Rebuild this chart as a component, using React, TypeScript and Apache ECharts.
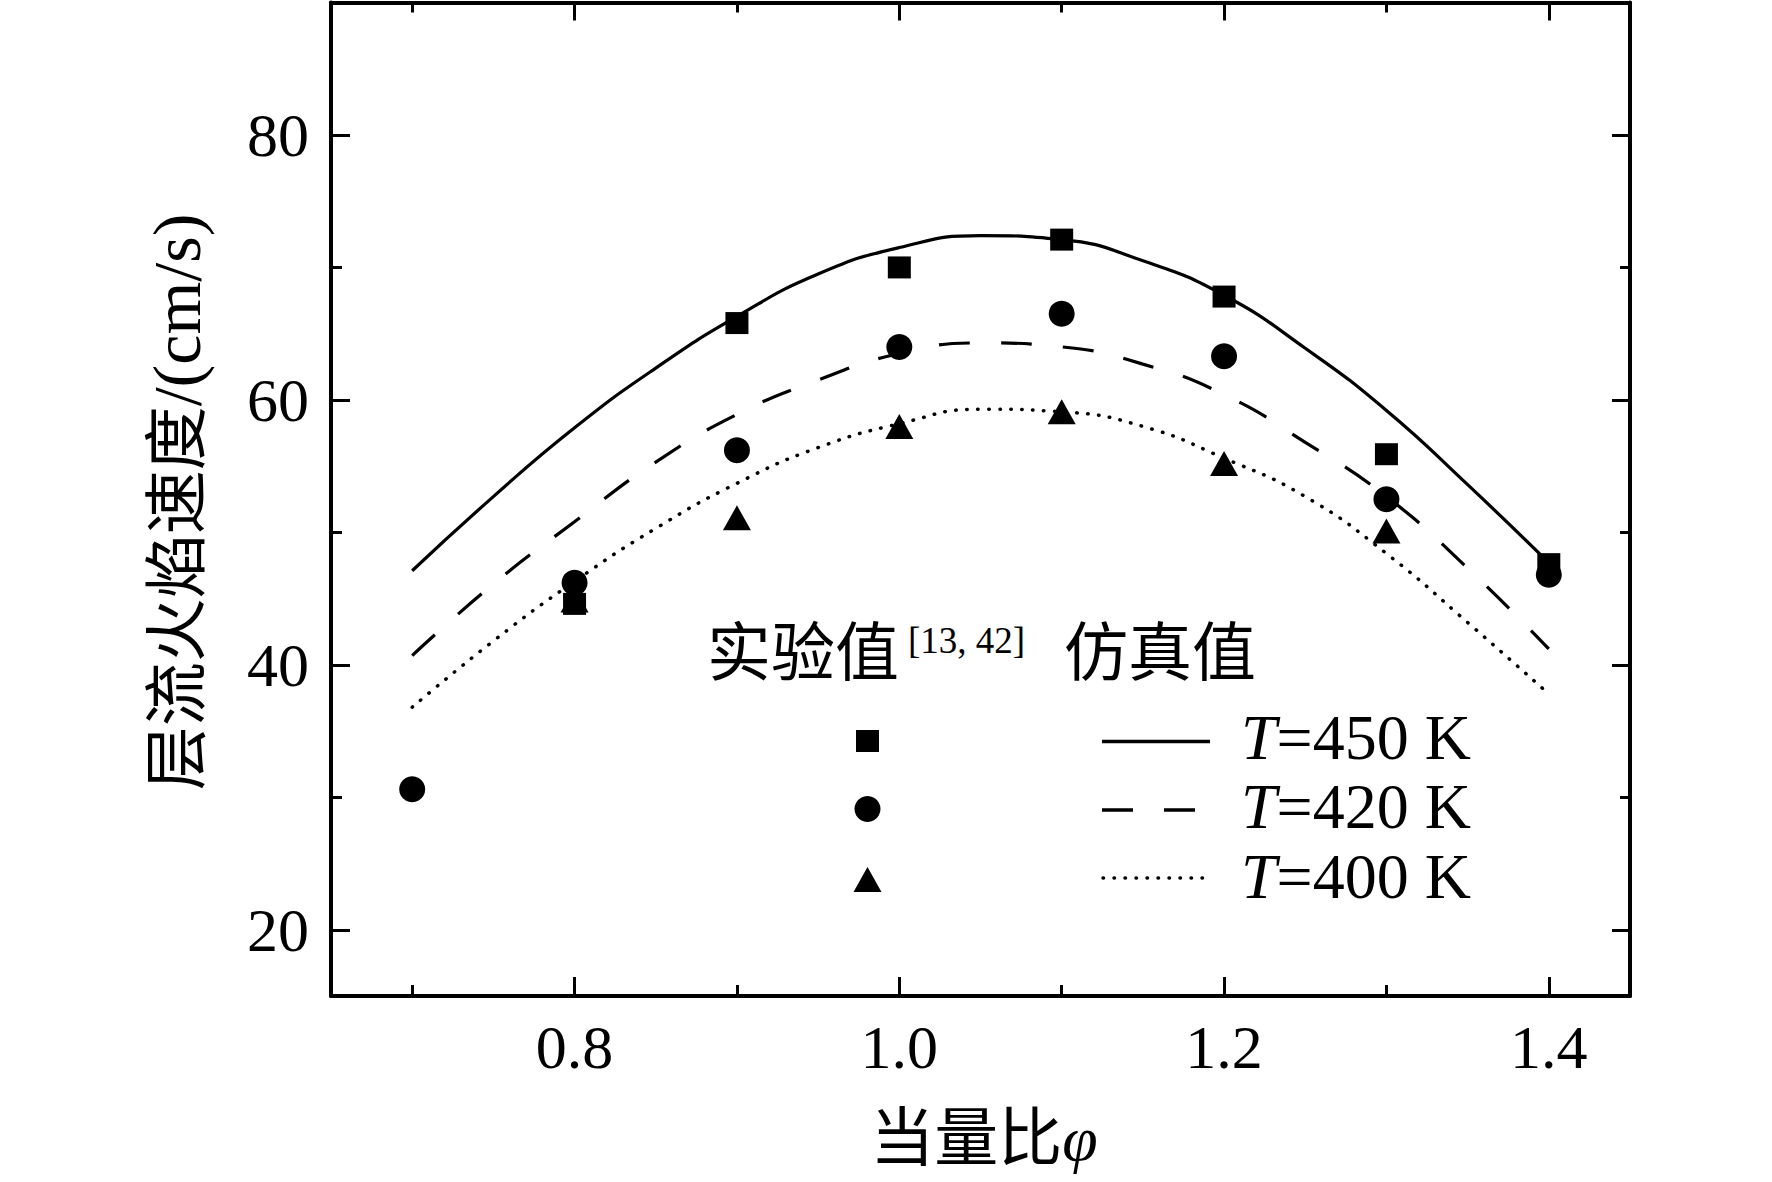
import React, { useEffect, useRef } from "react";
import * as echarts from "echarts";

// Experimental data (symbols)
const phiExp = [0.7, 0.8, 0.9, 1.0, 1.1, 1.2, 1.3, 1.4];
const exp450 = [null, 44.6, 65.8, 70.0, 72.1, 67.8, 55.9, 47.6];
const exp420 = [30.6, 46.2, 56.2, 64.0, 66.5, 63.3, 52.5, 46.8];
const exp400 = [null, 44.9, 51.1, 58.0, 59.1, 55.2, 50.1, null];

// Simulated curves
const simPhi = [0.7, 0.75, 0.8, 0.85, 0.9, 0.95, 1.0, 1.05, 1.1, 1.15, 1.2, 1.25, 1.3, 1.35, 1.4];
const sim450 = [47.1, 52.7, 57.9, 62.4, 66.3, 69.5, 71.5, 72.4, 72.1, 70.5, 67.9, 63.9, 59.2, 53.6, 47.7];
const sim420 = [40.7, 46.1, 50.8, 55.3, 58.9, 61.5, 63.5, 64.3, 64.0, 62.7, 60.4, 56.8, 52.7, 47.3, 41.2];
const sim400 = [36.8, 41.8, 46.3, 50.3, 53.7, 56.4, 58.2, 59.3, 59.1, 58.0, 55.6, 52.7, 48.4, 43.2, 37.8];

// Axis ticks
const xMajor = [0.8, 1.0, 1.2, 1.4];
const xMinor = [0.7, 0.9, 1.1, 1.3];
const yMajor = [20, 40, 60, 80];
const yMinor = [30, 50, 70];

// Texts
const yTitleCn = "层流火焰速度";
const yTitleUnit = "/(cm/s)";
const xTitleCn = "当量比";
const xTitleSym = "φ";
const expHeader = "实验值";
const expRef = "[13, 42]";
const simHeader = "仿真值";
const legendTemps = ["=450 K", "=420 K", "=400 K"];

const pairs = (xs: number[], ys: (number | null)[]) =>
  xs.map((x, i) => [x, ys[i]]).filter((p) => p[1] !== null);

const BLACK = "#000";
const SERIF = "'Liberation Serif', 'Times New Roman', serif";
const CJK = "'Liberation Serif', 'Noto Sans CJK SC', serif";

const X_MIN = 0.65;
const X_MAX = 1.45;
const Y_MIN = 15;
const Y_MAX = 90;

function xAx(gridIndex: number, position: string, ticks: number[], len: number, showLine: boolean, labels: boolean) {
  return {
    type: "value",
    gridIndex,
    position,
    min: X_MIN,
    max: X_MAX,
    axisLine: { show: showLine, onZero: false, lineStyle: { color: BLACK, width: 4 } },
    axisTick: { show: true, inside: true, length: len, customValues: ticks, lineStyle: { color: BLACK, width: 3 } },
    axisLabel: labels
      ? {
          show: true,
          customValues: ticks,
          formatter: (v: number) => v.toFixed(1),
          fontSize: 62,
          fontFamily: SERIF,
          color: BLACK,
          margin: 20,
        }
      : { show: false },
    splitLine: { show: false },
  };
}

function yAx(gridIndex: number, position: string, ticks: number[], len: number, showLine: boolean, labels: boolean) {
  return {
    type: "value",
    gridIndex,
    position,
    min: Y_MIN,
    max: Y_MAX,
    axisLine: { show: showLine, onZero: false, lineStyle: { color: BLACK, width: 4 } },
    axisTick: { show: true, inside: true, length: len, customValues: ticks, lineStyle: { color: BLACK, width: 3 } },
    axisLabel: labels
      ? {
          show: true,
          customValues: ticks,
          formatter: (v: number) => String(v),
          fontSize: 62,
          fontFamily: SERIF,
          color: BLACK,
          margin: 22,
        }
      : { show: false },
    splitLine: { show: false },
  };
}

export default function App() {
  const ref = useRef<HTMLDivElement>(null);

  useEffect(() => {
    if (!ref.current) return;
    const chart = echarts.init(ref.current, null, { renderer: "svg" });
    const grid = { left: 331, right: 142, top: 2.5, bottom: 186, containLabel: false };

    const lineBase = { type: "line", xAxisIndex: 0, yAxisIndex: 0, smooth: 0.5, symbol: "none", z: 2 };
    const scatterBase = { type: "scatter", xAxisIndex: 0, yAxisIndex: 0 };

    chart.setOption({
      animation: false,
      backgroundColor: "#fff",
      grid: [grid, { ...grid }],
      xAxis: [
        xAx(0, "bottom", xMajor, 19, true, true),
        xAx(0, "top", xMajor, 18, true, false),
        xAx(1, "bottom", xMinor, 11, false, false),
        xAx(1, "top", xMinor, 10, false, false),
      ],
      yAxis: [
        yAx(0, "left", yMajor, 19, true, true),
        yAx(0, "right", yMajor, 18, true, false),
        yAx(1, "left", yMinor, 11, false, false),
        yAx(1, "right", yMinor, 10, false, false),
      ],
      series: [
        {
          ...lineBase,
          name: "T=450 K",
          data: pairs(simPhi, sim450),
          lineStyle: { color: BLACK, width: 3.2, type: "solid" },
        },
        {
          ...lineBase,
          name: "T=420 K",
          data: pairs(simPhi, sim420),
          lineStyle: { color: BLACK, width: 3.2, type: [31, 31] },
        },
        {
          ...lineBase,
          name: "T=400 K",
          data: pairs(simPhi, sim400),
          lineStyle: { color: BLACK, width: 3.5, type: [0.5, 10.5], cap: "round" },
        },
        {
          ...scatterBase,
          name: "exp400",
          symbol: "triangle",
          symbolSize: [28, 25],
          itemStyle: { color: BLACK, opacity: 1 },
          data: pairs(phiExp, exp400),
          z: 3,
        },
        {
          ...scatterBase,
          name: "exp450",
          symbol: "rect",
          symbolSize: [23, 22],
          itemStyle: { color: BLACK, opacity: 1 },
          data: pairs(phiExp, exp450),
          z: 4,
        },
        {
          ...scatterBase,
          name: "exp420",
          symbol: "circle",
          symbolSize: 26,
          itemStyle: { color: BLACK, opacity: 1 },
          data: pairs(phiExp, exp420),
          z: 5,
        },
      ],
      graphic: [
        // Y axis title
        {
          type: "text",
          x: 177,
          y: 502,
          rotation: Math.PI / 2,
          style: {
            text: `{a|${yTitleCn}}{b|${yTitleUnit}}`,
            align: "center",
            verticalAlign: "middle",
            fill: BLACK,
            rich: {
              a: { fontSize: 64, fontFamily: CJK, fill: BLACK },
              b: { fontSize: 68, fontFamily: SERIF, fill: BLACK },
            },
          },
        },
        // X axis title
        {
          type: "text",
          x: 984,
          y: 1138,
          style: {
            text: `{a|${xTitleCn}}{b|${xTitleSym}}`,
            align: "center",
            verticalAlign: "middle",
            fill: BLACK,
            rich: {
              a: { fontSize: 64, fontFamily: CJK, fill: BLACK },
              b: { fontSize: 64, fontFamily: SERIF, fontStyle: "italic", fill: BLACK },
            },
          },
        },
        // Legend headers
        {
          type: "text",
          x: 707,
          y: 653,
          style: { text: expHeader, fontSize: 64, fontFamily: CJK, fill: BLACK, align: "left", verticalAlign: "middle" },
        },
        {
          type: "text",
          x: 908,
          y: 640,
          style: { text: expRef, fontSize: 37, fontFamily: SERIF, fill: BLACK, align: "left", verticalAlign: "middle" },
        },
        {
          type: "text",
          x: 1064,
          y: 653,
          style: { text: simHeader, fontSize: 64, fontFamily: CJK, fill: BLACK, align: "left", verticalAlign: "middle" },
        },
        // Legend symbols
        { type: "rect", shape: { x: 856, y: 730, width: 23, height: 22 }, style: { fill: BLACK } },
        { type: "circle", shape: { cx: 867.5, cy: 809, r: 13 }, style: { fill: BLACK } },
        {
          type: "polygon",
          shape: { points: [[853.5, 892], [881.5, 892], [867.5, 867]] },
          style: { fill: BLACK },
        },
        // Legend lines
        { type: "line", shape: { x1: 1102, y1: 741.5, x2: 1210, y2: 741.5 }, style: { stroke: BLACK, lineWidth: 3.5 } },
        {
          type: "line",
          shape: { x1: 1102, y1: 810, x2: 1195, y2: 810 },
          style: { stroke: BLACK, lineWidth: 3.5, lineDash: [31, 31] },
        },
        {
          type: "line",
          shape: { x1: 1103, y1: 878, x2: 1204, y2: 878 },
          style: { stroke: BLACK, lineWidth: 3.5, lineDash: [0.5, 10.5], lineCap: "round" },
        },
        // Legend texts
        ...legendTemps.map((t, i) => ({
          type: "text",
          x: 1241,
          y: [737.5, 806, 876][i],
          style: {
            text: `{i|T}{n|${t}}`,
            align: "left",
            verticalAlign: "middle",
            fill: BLACK,
            rich: {
              i: { fontSize: 64, fontFamily: SERIF, fontStyle: "italic", fill: BLACK },
              n: { fontSize: 64, fontFamily: SERIF, fill: BLACK },
            },
          },
        })),
      ],
    });

    return () => chart.dispose();
  }, []);

  return (
    <div
      ref={ref}
      style={{ position: "absolute", left: 0, top: 0, width: 1772, height: 1182, background: "#fff" }}
    />
  );
}
